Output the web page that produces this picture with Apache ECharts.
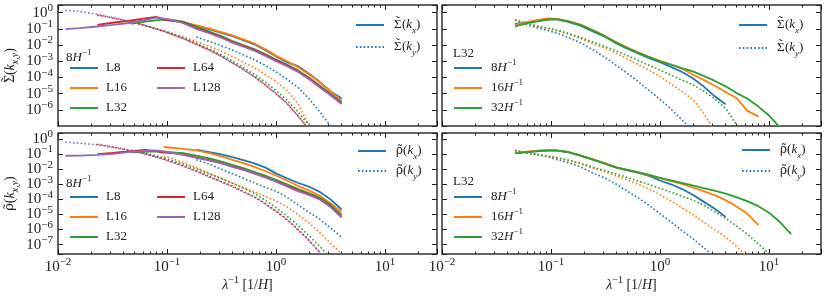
<!DOCTYPE html>
<html><head><meta charset="utf-8">
<script src="https://cdn.jsdelivr.net/npm/echarts@6/dist/echarts.min.js"></script>
<style>html,body{margin:0;padding:0;background:#fff}#c{width:830px;height:296px}</style>
</head><body><div id="c"></div><script>
const FONT = "'Liberation Serif','DejaVu Serif',serif";
const GFONT = "'DejaVu Serif','Liberation Serif',serif";
const INK = '#222';
const COL = {blue:'#1f77b4', orange:'#ff7f0e', green:'#2ca02c', red:'#d62728', purple:'#9467bd'};

// axis ranges
const xRange = [0.01, 30];
const yRangeTop = [1e-7, 3];
const yRangeBottom = [2.4e-8, 2.5];
const minorXTicks = [0.02,0.03,0.04,0.05,0.06,0.07,0.08,0.09,0.2,0.3,0.4,0.5,0.6,0.7,0.8,0.9,2,3,4,5,6,7,8,9,20,30];

// wavenumber grid lambda^-1 [1/H]
const lam = [0.0117,0.0158,0.0229,0.0316,0.0468,0.0631,0.0794,0.0933,0.112,0.141,0.186,0.251,0.316,0.398,0.501,0.631,0.794,1.0,1.26,1.58,2.0,2.51,3.16,4.0,5.0,6.31,8.0,10.0,12.6,16.0];
const startL = [10, 7, 4, 2, 0];     // L8, L16, L32, L64, L128
const startRes = [4, 4, 4];           // 8H, 16H, 32H (L32)

// ---- Sigma, 8H^-1, varying L (top-left) ----
const sigKx_L8   = [0.158,0.0891,0.0562,0.0355,0.02,0.0112,5.01e-3,2.0e-3,8.91e-4,5.01e-4,1.78e-4,5.37e-5,1.41e-5,5.01e-6];
const sigKx_L16  = [0.355,0.331,0.263,0.166,0.1,0.0631,0.0398,0.0224,0.0126,5.62e-3,2.24e-3,1.0e-3,4.47e-4,1.58e-4,5.01e-5,1.41e-5,3.55e-6];
const sigKx_L32  = [0.204,0.282,0.339,0.38,0.363,0.282,0.141,0.0631,0.0355,0.0178,0.01,5.62e-3,2.82e-3,1.26e-3,6.31e-4,2.82e-4,1.0e-4,3.16e-5,1.0e-5,2.82e-6];
const sigKx_L64  = [0.178,0.24,0.331,0.447,0.562,0.38,0.316,0.251,0.112,0.0562,0.0316,0.0158,8.91e-3,5.01e-3,2.51e-3,1.2e-3,5.62e-4,2.51e-4,8.91e-5,2.82e-5,8.91e-6,2.51e-6];
const sigKx_L128 = [0.098,0.112,0.141,0.178,0.24,0.355,0.501,0.437,0.355,0.224,0.1,0.0501,0.0282,0.0141,7.94e-3,4.47e-3,2.24e-3,1.0e-3,5.01e-4,2.24e-4,7.94e-5,2.51e-5,7.94e-6,2.24e-6];
const sigKy_L8   = [0.0316,0.0158,8.91e-3,5.01e-3,2.51e-3,1.26e-3,5.62e-4,2.24e-4,7.94e-5,2.51e-5,5.01e-6,7.94e-7,1.0e-7,1.26e-8];
const sigKy_L16  = [0.0794,0.0525,0.0316,0.0166,7.94e-3,3.98e-3,2.0e-3,8.91e-4,3.98e-4,1.58e-4,5.62e-5,1.58e-5,2.51e-6,1.26e-7,1.0e-8];
const sigKy_L32  = [0.282,0.166,0.105,0.0759,0.0501,0.0282,0.0126,5.25e-3,2.51e-3,1.05e-3,4.17e-4,1.58e-4,5.25e-5,1.58e-5,3.98e-6,7.94e-7,1.12e-7,1.26e-8];
const sigKy_L64  = [0.708,0.479,0.275,0.158,0.1,0.0708,0.0447,0.0251,0.0112,4.47e-3,2.0e-3,7.94e-4,3.16e-4,1.12e-4,3.55e-5,1.0e-5,2.51e-6,4.47e-7,6.31e-8,7.94e-9];
const sigKy_L128 = [1.41,1.2,0.794,0.501,0.282,0.166,0.1,0.0708,0.0447,0.0251,0.0112,4.47e-3,2.0e-3,7.94e-4,3.16e-4,1.12e-4,3.55e-5,1.0e-5,2.51e-6,4.47e-7,6.31e-8,7.94e-9];

// ---- Sigma, L32, varying resolution (top-right) ----
const sigKx_8H  = [0.204,0.263,0.331,0.38,0.398,0.282,0.158,0.0631,0.0316,0.0126,6.03e-3,3.02e-3,1.58e-3,8.91e-4,4.47e-4,2.24e-4,8.91e-5,2.82e-5,7.08e-6,2.24e-6];
const sigKx_16H = [0.178,0.282,0.38,0.447,0.417,0.316,0.182,0.0759,0.0355,0.0151,7.08e-3,3.55e-3,1.91e-3,1.05e-3,6.31e-4,3.55e-4,1.51e-4,7.08e-5,3.16e-5,1.26e-5,5.62e-6,8.91e-7,3.8e-7];
const sigKx_32H = [0.141,0.24,0.316,0.38,0.398,0.302,0.178,0.0708,0.0331,0.0141,6.61e-3,3.31e-3,1.78e-3,1.0e-3,6.31e-4,3.8e-4,2.4e-4,1.26e-4,6.31e-5,2.82e-5,1.12e-5,5.01e-6,1.58e-6,4.47e-7,7.94e-8,1.58e-8];
const sigKy_8H  = [0.355,0.158,0.105,0.0794,0.0562,0.0316,0.0141,4.47e-3,1.66e-3,5.62e-4,1.78e-4,5.62e-5,1.58e-5,4.47e-6,1.12e-6,2.51e-7,5.01e-8];
const sigKy_16H = [0.355,0.191,0.132,0.105,0.0794,0.0501,0.0251,0.0112,6.31e-3,3.16e-3,1.41e-3,6.31e-4,2.82e-4,1.12e-4,3.98e-5,1.41e-5,4.47e-6,6.31e-7,5.01e-8];
const sigKy_32H = [0.355,0.2,0.141,0.112,0.0851,0.0562,0.0302,0.0141,7.94e-3,4.47e-3,2.24e-3,1.12e-3,5.62e-4,2.82e-4,1.41e-4,7.08e-5,3.55e-5,1.41e-5,5.01e-6,1.26e-6,1.26e-7,1.26e-8];

// ---- rho, 8H^-1, varying L (bottom-left) ----
const rhoKx_L8   = [0.195,0.132,0.0955,0.0631,0.0398,0.024,0.0132,5.25e-3,2.51e-3,1.26e-3,7.08e-4,3.16e-4,1.0e-4,2.14e-5];
const rhoKx_L16  = [0.295,0.263,0.224,0.178,0.112,0.0708,0.0417,0.0251,0.0141,7.59e-3,3.8e-3,1.78e-3,7.94e-4,3.98e-4,1.78e-4,5.62e-5,1.41e-5];
const rhoKx_L32  = [0.129,0.141,0.151,0.145,0.132,0.117,0.0794,0.0501,0.0316,0.0191,0.012,6.76e-3,3.8e-3,2.0e-3,1.0e-3,5.01e-4,2.63e-4,1.32e-4,4.47e-5,8.91e-6];
const rhoKx_L64  = [0.1,0.12,0.158,0.191,0.158,0.126,0.117,0.0955,0.0603,0.038,0.0251,0.0151,9.55e-3,5.37e-3,3.02e-3,1.58e-3,7.94e-4,3.98e-4,2.14e-4,1.07e-4,3.55e-5,7.08e-6];
const rhoKx_L128 = [0.0776,0.0794,0.0891,0.105,0.141,0.166,0.178,0.151,0.12,0.0891,0.0562,0.0355,0.024,0.0141,8.91e-3,5.01e-3,2.82e-3,1.48e-3,7.08e-4,3.55e-4,2.0e-4,1.0e-4,3.16e-5,6.31e-6];
const rhoKy_L8   = [0.0417,0.02,0.01,5.01e-3,2.51e-3,1.26e-3,6.31e-4,3.55e-4,1.41e-4,4.47e-5,1.41e-5,5.01e-6,1.26e-6,3.16e-7];
const rhoKy_L16  = [0.0708,0.0501,0.0282,0.0126,5.01e-3,2.51e-3,1.2e-3,6.03e-4,3.16e-4,1.58e-4,7.94e-5,3.16e-5,1.0e-5,2.82e-6,6.31e-7,1.26e-7,2.51e-8];
const rhoKy_L32  = [0.178,0.112,0.0759,0.0562,0.038,0.0219,0.0105,4.47e-3,2.29e-3,1.17e-3,5.62e-4,2.51e-4,8.91e-5,2.82e-5,7.94e-6,2.0e-6,3.98e-7,7.94e-8,1.26e-8];
const rhoKy_L64  = [0.447,0.302,0.174,0.105,0.0661,0.0468,0.0302,0.0166,7.59e-3,3.02e-3,1.51e-3,7.59e-4,3.39e-4,1.51e-4,5.37e-5,1.7e-5,4.79e-6,1.07e-6,2.0e-7,3.16e-8];
const rhoKy_L128 = [0.603,0.525,0.417,0.282,0.166,0.1,0.0631,0.0447,0.0282,0.0158,7.08e-3,2.82e-3,1.41e-3,7.08e-4,3.16e-4,1.41e-4,5.01e-5,1.58e-5,4.47e-6,1.0e-6,2.0e-7,3.16e-8];

// ---- rho, L32, varying resolution (bottom-right) ----
const rhoKx_8H  = [0.117,0.141,0.158,0.17,0.17,0.138,0.0794,0.0398,0.0224,0.0126,8.32e-3,5.62e-3,3.55e-3,1.78e-3,1.0e-3,5.01e-4,2.0e-4,7.08e-5,2.51e-5,6.92e-6];
const rhoKx_16H = [0.12,0.151,0.174,0.182,0.178,0.141,0.0832,0.0417,0.024,0.0132,8.91e-3,6.03e-3,3.98e-3,2.51e-3,1.66e-3,1.05e-3,6.31e-4,3.55e-4,1.91e-4,8.91e-5,3.55e-5,1.12e-5,1.95e-6];
const rhoKx_32H = [0.112,0.141,0.166,0.178,0.174,0.138,0.0794,0.0398,0.0234,0.0132,8.91e-3,6.31e-3,4.17e-3,2.63e-3,1.78e-3,1.26e-3,8.32e-4,5.62e-4,3.8e-4,2.4e-4,1.41e-4,7.59e-5,3.55e-5,1.32e-5,3.16e-6,5.01e-7];
const rhoKy_8H  = [0.174,0.112,0.0832,0.0661,0.0447,0.0282,0.0141,5.01e-3,2.51e-3,1.0e-3,3.55e-4,1.26e-4,3.98e-5,1.12e-5,3.16e-6,8.91e-7,2.51e-7,6.31e-8,1.58e-8];
const rhoKy_16H = [0.174,0.112,0.0871,0.0724,0.0562,0.038,0.0224,0.0105,6.31e-3,3.55e-3,1.91e-3,1.0e-3,5.01e-4,2.0e-4,7.94e-5,2.82e-5,1.0e-5,3.16e-6,1.0e-6,3.16e-7,7.94e-8,1.58e-8];
const rhoKy_32H = [0.174,0.112,0.0871,0.0741,0.0589,0.0417,0.0251,0.0126,7.94e-3,4.79e-3,2.82e-3,1.66e-3,9.55e-4,5.37e-4,3.02e-4,1.66e-4,8.91e-5,4.17e-5,1.58e-5,5.62e-6,1.78e-6,5.01e-7,1.12e-7,2.51e-8];

const namesL = ['L8','L16','L32','L64','L128'];
const namesRes = ['8H','16H','32H'];
const colorsL = [COL.blue, COL.orange, COL.green, COL.red, COL.purple];

const panels = [
  {names:namesL, starts:startL, kx:[sigKx_L8,sigKx_L16,sigKx_L32,sigKx_L64,sigKx_L128], ky:[sigKy_L8,sigKy_L16,sigKy_L32,sigKy_L64,sigKy_L128]},
  {names:namesRes, starts:startRes, kx:[sigKx_8H,sigKx_16H,sigKx_32H], ky:[sigKy_8H,sigKy_16H,sigKy_32H]},
  {names:namesL, starts:startL, kx:[rhoKx_L8,rhoKx_L16,rhoKx_L32,rhoKx_L64,rhoKx_L128], ky:[rhoKy_L8,rhoKy_L16,rhoKy_L32,rhoKy_L64,rhoKy_L128]},
  {names:namesRes, starts:startRes, kx:[rhoKx_8H,rhoKx_16H,rhoKx_32H], ky:[rhoKy_8H,rhoKy_16H,rhoKy_32H]}
];

const gridBoxes = [
  {left:58, top:5, width:379, height:121},
  {left:442, top:5, width:379, height:121},
  {left:58, top:133, width:379, height:121},
  {left:442, top:133, width:379, height:121}
];
const yRanges = [yRangeTop, yRangeTop, yRangeBottom, yRangeBottom];

function makeRich(fs){
  return {
    n: {fontFamily:FONT, fontSize:fs, lineHeight:20, fontWeight:'normal', color:INK},
    i: {fontFamily:FONT, fontSize:fs, lineHeight:20, fontWeight:'normal', fontStyle:'italic', color:INK},
    g: {fontFamily:GFONT, fontSize:fs - 1, lineHeight:20, fontWeight:'normal', color:INK},
    // tilde accent drawn back over the preceding capital sigma
    t: {fontFamily:FONT, fontSize:fs, lineHeight:13, verticalAlign:'top', fontWeight:'normal', color:INK,
        padding:[0, Math.round(fs * 0.15), 0, -Math.round(fs * 0.48)]},
    s: {fontFamily:FONT, fontSize:Math.round(fs * 0.72), lineHeight:10, verticalAlign:'top', fontWeight:'normal', color:INK},
    d: {fontFamily:FONT, fontSize:Math.round(fs * 0.72), lineHeight:12, verticalAlign:'bottom', fontWeight:'normal', fontStyle:'italic', color:INK}
  };
}
const RICH_TICK = makeRich(15);
const RICH_LEG = makeRich(13);
const RICH_NAME = makeRich(14);

function expLabel(v){
  const lg = Math.log10(v); const e = Math.round(lg);
  if (Math.abs(lg - e) > 1e-6) return '';
  return '{n|10}{s|' + (e < 0 ? '\u2212' + (-e) : e) + '}';
}
const SIG = '{n|\u03A3}{t|\u02DC}';
const RHO = '{g|\u03C1\u0303}';
const LABELS = {
  L8:'{n|L8}', L16:'{n|L16}', L32:'{n|L32}', L64:'{n|L64}', L128:'{n|L128}',
  '8H':'{n|8}{i|H}{s|\u22121}', '16H':'{n|16}{i|H}{s|\u22121}', '32H':'{n|32}{i|H}{s|\u22121}',
  Sx:SIG + '{n|(}{i|k}{d|x}{n|)}', Sy:SIG + '{n|(}{i|k}{d|y}{n|)}',
  Rx:RHO + '{n|(}{i|k}{d|x}{n|)}', Ry:RHO + '{n|(}{i|k}{d|y}{n|)}'
};

const tickStyle = {color:INK, width:1};
const xAxes = [], yAxes = [];
gridBoxes.forEach((g, gi) => {
  const bottomLabels = gi >= 2, leftLabels = gi % 2 === 0;
  const base = {type:'log', logBase:10, gridIndex:gi, min:xRange[0], max:xRange[1],
    axisLine:{show:false, onZero:false}, splitLine:{show:false}, silent:true};
  xAxes.push(Object.assign({}, base, {position:'bottom',
    axisTick:{inside:true, length:5, lineStyle:tickStyle},
    axisLabel:{show:bottomLabels, formatter:expLabel, rich:RICH_TICK, margin:3},
    name: bottomLabels ? '{i|\u03BB}{s|\u22121}{n| [1/}{i|H}{n|]}' : '',
    nameLocation:'middle', nameGap:19, nameTextStyle:{rich:RICH_NAME}}));
  xAxes.push(Object.assign({}, base, {position:'bottom',
    axisTick:{inside:true, length:2.5, customValues:minorXTicks, lineStyle:tickStyle},
    axisLabel:{show:false}}));
  xAxes.push(Object.assign({}, base, {position:'top',
    axisTick:{inside:true, length:5, lineStyle:tickStyle}, axisLabel:{show:false}}));
  xAxes.push(Object.assign({}, base, {position:'top',
    axisTick:{inside:true, length:2.5, customValues:minorXTicks, lineStyle:tickStyle},
    axisLabel:{show:false}}));
  const ybase = {type:'log', logBase:10, gridIndex:gi, min:yRanges[gi][0], max:yRanges[gi][1],
    axisLine:{show:false, onZero:false}, splitLine:{show:false}, silent:true};
  yAxes.push(Object.assign({}, ybase, {position:'left',
    axisTick:{inside:true, length:5, lineStyle:tickStyle},
    axisLabel:{show:leftLabels, formatter:expLabel, rich:RICH_TICK, margin:5},
    name: leftLabels ? (gi === 0 ? SIG + '{n|(}{i|k}{d|x,y}{n|)}' : RHO + '{n|(}{i|k}{d|x,y}{n|)}') : '',
    nameLocation:'middle', nameGap:38, nameRotate:90, nameTextStyle:{rich:RICH_NAME}}));
  yAxes.push(Object.assign({}, ybase, {position:'right',
    axisTick:{inside:true, length:5, lineStyle:tickStyle}, axisLabel:{show:false}}));
});

const series = [];
const DOT = [1.6, 2.2];
panels.forEach((p, gi) => {
  p.names.forEach((nm, k) => {
    const color = colorsL[k];
    const mk = (vals) => vals.map((v, i) => [lam[p.starts[k] + i], v]);
    series.push({type:'line', name:nm, xAxisIndex:gi*4, yAxisIndex:gi*2, data:mk(p.kx[k]),
      symbol:'none', color, lineStyle:{color, width:1.8, type:'solid'}, silent:true, emphasis:{disabled:true}});
    series.push({type:'line', name:nm + ' ky', xAxisIndex:gi*4, yAxisIndex:gi*2, data:mk(p.ky[k]),
      symbol:'none', color, lineStyle:{color, width:1.6, type:DOT}, silent:true, emphasis:{disabled:true}});
  });
});
// legend-only entries for the kx / ky line styles
[['Sx',0,'solid'],['Sy',0,DOT],['Rx',2,'solid'],['Ry',2,DOT]].forEach(([nm, gi, t]) => {
  series.push({type:'line', name:nm, xAxisIndex:gi*4, yAxisIndex:gi*2, data:[], symbol:'none',
    color:COL.blue, lineStyle:{color:COL.blue, width:t === 'solid' ? 1.8 : 1.6, type:t}});
});

const legendBase = {orient:'vertical', padding:0, itemWidth:28, itemHeight:14, itemGap:0, selectedMode:false,
  itemStyle:{opacity:0}, lineStyle:{width:2}, formatter:(n) => LABELS[n],
  textStyle:{fontFamily:FONT, fontSize:13, color:INK, lineHeight:20, rich:RICH_LEG}};
const L = (o) => Object.assign({}, legendBase, o, {textStyle:Object.assign({}, legendBase.textStyle, o.textStyle || {})});
const legends = [
  L({data:namesL, left:69, top:58, height:62, textStyle:{width:50, padding:[0,0,0,3]}}),
  L({data:['Sx','Sy'], left:355, top:15, itemGap:2, textStyle:{padding:[0,0,0,5]}}),
  L({data:namesRes, left:453, top:58, height:62, textStyle:{padding:[0,0,0,4]}}),
  L({data:['Sx','Sy'], left:738, top:15, itemGap:3, textStyle:{padding:[0,0,0,5]}}),
  L({data:namesL, left:69, top:187, height:62, textStyle:{width:50, padding:[0,0,0,3]}}),
  L({data:['Rx','Ry'], left:357, top:141, itemGap:0, textStyle:{padding:[0,0,0,5]}}),
  L({data:namesRes, left:453, top:187, height:62, textStyle:{padding:[0,0,0,4]}}),
  L({data:['Rx','Ry'], left:741, top:140, itemGap:1, textStyle:{padding:[0,0,0,5]}})
];

const titles = [
  {text:'{n|8}{i|H}{s|\u22121}', left:66, top:48},
  {text:'{n|L32}', left:453, top:44},
  {text:'{n|8}{i|H}{s|\u22121}', left:66, top:174},
  {text:'{n|L32}', left:453, top:172}
].map(t => Object.assign(t, {padding:0, textStyle:{rich:RICH_LEG, fontFamily:FONT, fontWeight:'normal'}}));

const chart = echarts.init(document.getElementById('c'), null, {renderer:'canvas'});
chart.setOption({
  animation:false,
  backgroundColor:'#fff',
  title:titles,
  legend:legends,
  grid:gridBoxes.map(g => Object.assign({show:true, borderColor:'#333', borderWidth:1.5, backgroundColor:'transparent', containLabel:false, outerBoundsMode:'none'}, g)),
  xAxis:xAxes,
  yAxis:yAxes,
  series
});
</script></body></html>
